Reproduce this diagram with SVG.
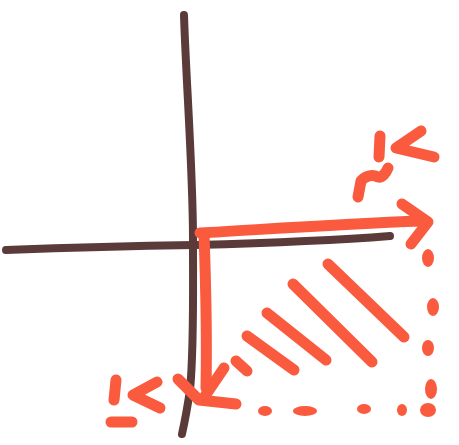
<svg xmlns="http://www.w3.org/2000/svg" width="459" height="445" viewBox="0 0 459 445">
<style>
.ax{fill:none;stroke:#5b3b3a;stroke-width:8;stroke-linecap:round;stroke-linejoin:round}
.rd{fill:none;stroke:#fa5a3e;stroke-width:11;stroke-linecap:round;stroke-linejoin:round}
.dot{fill:#fa5a3e}
</style>
<rect width="459" height="445" fill="#ffffff"/>
<g id="axes">
<path class="ax" d="M184 15 C186 80 193 170 193 240 C193 300 194 350 190 390 C187 410 184 425 182 434"/>
<path class="ax" d="M6 250 C60 248 130 246 195 245 C270 243 340 240 390 236"/>
</g>
<g id="arrows">
<path class="rd" d="M200 233 C270 229 340 224 422 221"/>
<path class="rd" d="M402 204 L428 222 L411 244"/>
<path class="rd" d="M204 234 C206 290 207 340 206 388"/>
<path class="rd" d="M178 379 L199 400 L236 404"/>
<path class="rd" d="M224 368 L205 396"/>
</g>
<g id="hatch">
<path class="rd" d="M328 264 L404 337"/>
<path class="rd" d="M293 284 L372 362"/>
<path class="rd" d="M267 313 L326 360"/>
<path class="rd" d="M247 336 L294 370"/>
<path class="rd" d="M236 361 L247 371"/>
</g>
<g id="dots">
<ellipse class="dot" cx="428" cy="258" rx="6" ry="9"/>
<ellipse class="dot" cx="433" cy="307" rx="6" ry="9"/>
<ellipse class="dot" cx="428" cy="348" rx="6" ry="8"/>
<ellipse class="dot" cx="431" cy="389" rx="6" ry="10"/>
<ellipse class="dot" cx="428" cy="410" rx="8" ry="7"/>
<ellipse class="dot" cx="402" cy="410" rx="5" ry="6"/>
<ellipse class="dot" cx="364" cy="409" rx="7" ry="5"/>
<ellipse class="dot" cx="305" cy="411" rx="12" ry="5"/>
<ellipse class="dot" cx="265" cy="411" rx="7" ry="5"/>
</g>
<g id="marks-top">
<path class="rd" d="M380 136 L379 157"/>
<path class="rd" d="M421 131 L396 148 L434 157"/>
<path class="rd" d="M358 197 L361 181 C365 176 372 174 378 177 C382 178 386 173 388 168"/>
</g>
<g id="marks-bottom">
<path class="rd" d="M116 380 L114 400"/>
<path class="rd" d="M111 422 L132 422"/>
<path class="rd" d="M157 382 L133 395 L160 408"/>
</g>
</svg>
